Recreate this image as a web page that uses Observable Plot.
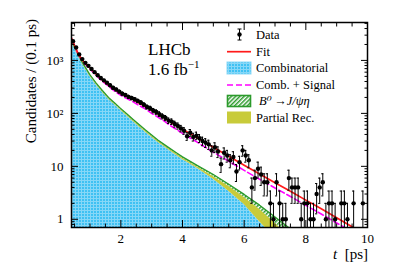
<!DOCTYPE html>
<html><head><meta charset="utf-8">
<script src="https://cdn.jsdelivr.net/npm/d3@7"></script>
<script src="https://cdn.jsdelivr.net/npm/@observablehq/plot@0.6"></script>
<style>
body{margin:0;background:#fff;}
#chart{width:399px;height:274px;}
</style>
</head><body><div id="chart"></div>
<script>
// ---- Data ----
const binT = [0.45,0.55,0.65,0.75,0.85,0.95,1.05,1.15,1.25,1.35,1.45,1.55,1.65,1.75,1.85,1.95,
  2.05,2.15,2.25,2.35,2.45,2.55,2.65,2.75,2.85,2.95,3.05,3.15,3.25,3.35,3.45,3.55,3.65,3.75,3.85,3.95,
  4.05,4.15,4.25,4.35,4.45,4.55,4.65,4.75,4.85,4.95,5.05,5.15,5.25,5.35,5.45,5.55,5.65,5.75,5.85,5.95,
  6.05,6.15,6.25,6.35,6.45,6.55,6.65,6.75,6.85,6.95,7.05,7.15,7.25,7.35,7.45,7.55,7.65,7.75,7.85,7.95,
  8.05,8.15,8.25,8.35,8.45,8.55,8.65,8.75,8.85,8.95,9.05,9.15,9.25,9.35,9.45,9.55,9.65,9.75,9.85,9.95];
const counts = [2300,1750,1300,1060,900,790,690,600,525,465,420,380,340,305,282,258,
  236,222,205,195,185,172,160,146,132,125,113,106,97,88,82,73,70,63,58,52,
  47,37,43,36,38,34,30,28,26,20,23,19,11,18,16,13,15,8,12,20,
  16,13,4,6,9,7,5,5,2,1,5,2,1,1,6,4,4,4,1,2,
  2,1,1,3,4,5,1,2,2,1,0,2,2,1,0,2,0,0,2,0];

const fitT = [0.4,0.5,0.6,0.7,0.8,0.9,1.0,1.2,1.4,1.6,1.8,2.0,2.2,2.4,2.6,2.8,3.0,3.2,3.4,3.6,3.8,4.0,
  4.5,5.0,5.5,6.0,6.5,7.0,7.5,8.0,8.5,9.0,9.5,10.0];
const fitVals = [2630,1905,1410,1120,933,813,724,550,427,347,282,240,209,182,155,135,115,98,83,69,59,50,
  34,23,15.5,10.5,7.2,4.9,3.4,2.3,1.58,1.07,0.72,0.49];
const combSigVals = [2570,1860,1380,1095,910,790,690,522,403,326,263,219,190,165,140,121,100,85,72,59,50,42,
  28,18.5,12.5,8.4,5.7,3.9,2.7,1.83,1.26,0.85,0.58,0.4];

const compT = [0.4,0.5,0.6,0.7,0.8,0.9,1.0,1.2,1.4,1.6,1.8,2.0,2.2,2.4,2.6,2.8,3.0,3.2,3.4,3.6,3.8,4.0,
  4.5,5.0,5.5,6.0,6.5,7.0,7.5];
const combVals = [2200,1670,1270,960,770,617,495,347,250,185,145,113,89,70,55.5,44,35.4,28.5,23.6,19.5,16.2,13.5,
  9.0,5.7,3.4,1.9,0.9,0.45,0.22];
const partialTopVals = [2290,1740,1325,1000,803,644,517,363,262,194,152,119,94,74,58.8,46.7,37.6,30.3,25.1,20.8,17.3,14.4,
  9.6,6.4,4.2,2.6,1.55,0.85,0.45];
const b0TopVals = [2360,1790,1365,1030,827,664,533,374,270,200,157,123,97,76.5,60.8,48.3,38.9,31.4,26.0,21.6,18.0,15.1,
  10.2,7.0,4.6,2.95,1.85,1.1,0.66];

const xMajor = [2,4,6,8,10];
const xMajorLabels = ["2","4","6","8","10"];
const xMinor = [0.5,1,1.5,2.5,3,3.5,4.5,5,5.5,6.5,7,7.5,8.5,9,9.5];
const yMajor = [1,10,100,1000];
const yMajorLabels = ["1","10","10\u00B2","10\u00B3"];
const yMinor = [0.8,0.9,2,3,4,5,6,7,8,9,20,30,40,50,60,70,80,90,200,300,400,500,600,700,800,900,2000,3000,4000,5000];

const legendLabels = ["Data","Fit","Combinatorial","Comb. + Signal","B\u2070\u2009\u2192J/\u03C8\u03B7","Partial Rec."];

// ---- Tables ----
const dataPts = binT.map((t,i)=>({t, n: counts[i]})).filter(d=>d.n>0)
  .map(d=>({...d, lo: Math.max(d.n - Math.sqrt(d.n), 0.5), hi: d.n + Math.sqrt(d.n)}));
const fit = fitT.map((t,i)=>({t, fit: fitVals[i], cs: combSigVals[i]}));
const comp = compT.map((t,i)=>({t, comb: combVals[i], part: partialTopVals[i], b0: b0TopVals[i]}));

const Y0 = 0.7;
const cyan = "url(#combPat)", yellow = "#c8cb3a", green = "#2b9a2b";

const chart = Plot.plot({
  width: 399, height: 274,
  marginLeft: 71, marginRight: 32, marginTop: 22, marginBottom: 47,
  style: {fontFamily: "'Liberation Serif', 'DejaVu Serif', serif", fontSize: "13px", background: "#fff", color: "#000"},
  x: {domain: [0.4, 10]},
  y: {type: "log", domain: [Y0, 5200]},
  marks: [
    Plot.areaY(comp, {x: "t", y1: Y0, y2: "comb", fill: cyan, clip: true}),
    Plot.areaY(comp, {x: "t", y1: "comb", y2: "part", fill: yellow, clip: true}),
    Plot.areaY(comp, {x: "t", y1: "part", y2: "b0", fill: "url(#b0Pat)", clip: true}),
    Plot.line(comp, {x: "t", y: "b0", stroke: green, strokeWidth: 1.3, clip: true}),
    Plot.line(fit, {x: "t", y: "cs", stroke: "#ff00ff", strokeWidth: 1.6, strokeDasharray: "6,3", clip: true}),
    Plot.line(fit, {x: "t", y: "fit", stroke: "#ff1a1a", strokeWidth: 1.7, clip: true}),
    Plot.ruleX(dataPts, {x: "t", y1: "lo", y2: "hi", stroke: "#000", strokeWidth: 1, clip: true}),
    Plot.ruleY(dataPts, {y: "hi", x1: d => d.t - 0.035, x2: d => d.t + 0.035, stroke: "#000", strokeWidth: 1, clip: true}),
    Plot.ruleY(dataPts.filter(d=>d.lo>Y0), {y: "lo", x1: d => d.t - 0.035, x2: d => d.t + 0.035, stroke: "#000", strokeWidth: 1, clip: true}),
    Plot.dot(dataPts, {x: "t", y: "n", r: 2.2, fill: "#000", stroke: "none", clip: true}),
    // axes: labels
    Plot.axisX(xMajor, {anchor: "bottom", tickSize: 0, tickPadding: 6, tickFormat: d => xMajorLabels[xMajor.indexOf(d)], label: null}),
    Plot.axisY(yMajor, {anchor: "left", tickSize: 0, tickPadding: 8, tickFormat: d => yMajorLabels[yMajor.indexOf(d)], label: null}),
    // inward ticks
    Plot.axisX(xMajor, {anchor: "bottom", tickSize: 7, dy: -7, tickFormat: () => "", label: null}),
    Plot.axisX(xMinor, {anchor: "bottom", tickSize: 3.5, dy: -3.5, tickFormat: () => "", label: null}),
    Plot.axisX(xMajor, {anchor: "top", tickSize: 7, dy: 7, tickFormat: () => "", label: null}),
    Plot.axisX(xMinor, {anchor: "top", tickSize: 3.5, dy: 3.5, tickFormat: () => "", label: null}),
    Plot.axisY(yMajor, {anchor: "left", tickSize: 7, dx: 7, tickFormat: () => "", label: null}),
    Plot.axisY(yMinor, {anchor: "left", tickSize: 3.5, dx: 3.5, tickFormat: () => "", label: null}),
    Plot.axisY(yMajor, {anchor: "right", tickSize: 7, dx: -7, tickFormat: () => "", label: null}),
    Plot.axisY(yMinor, {anchor: "right", tickSize: 3.5, dx: -3.5, tickFormat: () => "", label: null}),
    Plot.frame({stroke: "#000", strokeWidth: 1.5})
  ]
});
document.getElementById("chart").appendChild(chart);

const svg = d3.select(chart);
svg.insert("defs", ":first-child").html(`
  <pattern id="combPat" width="3" height="3" patternUnits="userSpaceOnUse">
    <rect width="3" height="3" fill="#3fc1f3"/>
    <path d="M0,0.5H3M0.5,0V3" stroke="#86d7f7" stroke-width="1"/>
  </pattern>
  <pattern id="b0Pat" width="3" height="3" patternUnits="userSpaceOnUse" patternTransform="rotate(45)">
    <rect width="3" height="3" fill="#ffffff"/>
    <rect width="1.5" height="3" fill="${green}"/>
  </pattern>`);

const serif = "'Liberation Serif', 'DejaVu Serif', serif";
// Axis titles
svg.append("text").attr("transform", "translate(36,19) rotate(-90)")
  .attr("text-anchor", "end").attr("font-family", serif).attr("font-size", 15)
  .text("Candidates / (0.1 ps)");
const xt = svg.append("text").attr("x", 368).attr("y", 259).attr("text-anchor", "end")
  .attr("font-family", serif).attr("font-size", 15);
xt.append("tspan").attr("font-style", "italic").text("t");
xt.append("tspan").text("\u2002[ps]");

// LHCb label
svg.append("text").attr("x", 148).attr("y", 55).attr("text-anchor", "start").attr("font-family", serif).attr("font-size", 17).text("LHCb");
const lumi = svg.append("text").attr("x", 148).attr("y", 75).attr("text-anchor", "start").attr("font-family", serif).attr("font-size", 17);
lumi.append("tspan").text("1.6 fb");
lumi.append("tspan").attr("font-size", 11).attr("dy", -7).text("\u22121");

// Legend
const lg = svg.append("g").attr("font-family", serif).attr("font-size", 12.5).attr("text-anchor", "start");
const rowY = [34.5, 51.7, 68, 85, 101, 117.5];
const tx = 256;
// Data
lg.append("line").attr("x1", 239.5).attr("x2", 239.5).attr("y1", 29).attr("y2", 40).attr("stroke", "#000");
lg.append("line").attr("x1", 237.5).attr("x2", 241.5).attr("y1", 29).attr("y2", 29).attr("stroke", "#000");
lg.append("line").attr("x1", 237.5).attr("x2", 241.5).attr("y1", 40).attr("y2", 40).attr("stroke", "#000");
lg.append("circle").attr("cx", 239.5).attr("cy", rowY[0]).attr("r", 2.2).attr("fill", "#000");
// Fit
lg.append("line").attr("x1", 227).attr("x2", 251).attr("y1", rowY[1]).attr("y2", rowY[1]).attr("stroke", "#ff1a1a").attr("stroke-width", 1.7);
// Combinatorial
lg.append("rect").attr("x", 227).attr("y", 62).attr("width", 24).attr("height", 12).attr("fill", cyan).attr("stroke", "#8fdaf8").attr("stroke-width", 1);
// Comb + signal
lg.append("line").attr("x1", 227).attr("x2", 251).attr("y1", rowY[3]).attr("y2", rowY[3]).attr("stroke", "#ff00ff").attr("stroke-width", 1.6).attr("stroke-dasharray", "6,3");
// B0
lg.append("rect").attr("x", 227.5).attr("y", 95.5).attr("width", 23).attr("height", 11).attr("fill", "url(#b0Pat)").attr("stroke", green).attr("stroke-width", 1.6);
// Partial rec
lg.append("rect").attr("x", 227).attr("y", 111.5).attr("width", 24).attr("height", 12).attr("fill", yellow);
legendLabels.forEach((s, i) => {
  const t = lg.append("text").attr("x", i === 4 ? 259 : tx).attr("y", rowY[i]).attr("dy", "0.35em");
  if (i === 4) t.attr("font-style", "italic");
  t.text(s);
});
</script>
</body></html>
